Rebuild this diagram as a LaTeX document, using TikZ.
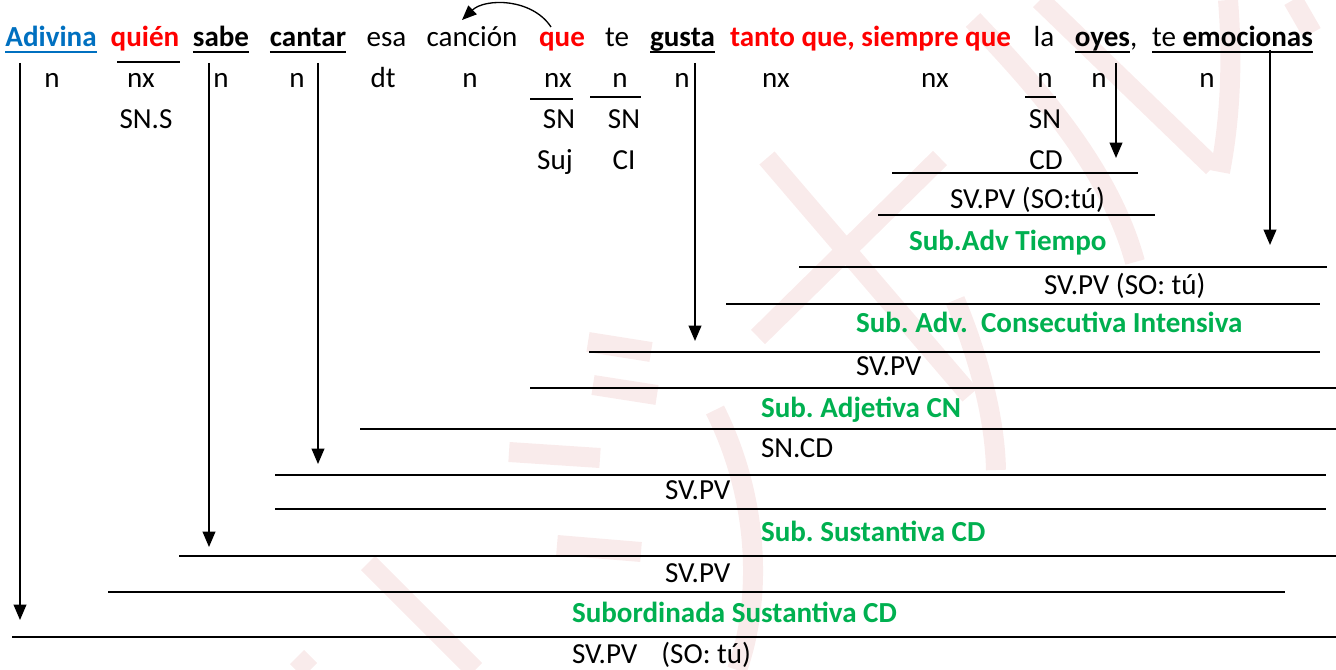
\documentclass[tikz,border=0pt]{standalone}
\usepackage{fontspec}
\setmainfont{Carlito}
\usetikzlibrary{arrows.meta}
\definecolor{wgreen}{RGB}{0,176,80}
\definecolor{wblue}{RGB}{0,112,192}
\definecolor{wred}{RGB}{255,0,0}
\definecolor{wmark}{RGB}{249,235,235}
\frenchspacing
\begin{document}
\begin{tikzpicture}[x=0.75pt,y=-0.75pt,
  every node/.style={inner sep=0pt,outer sep=0pt,font=\fontsize{21.8}{26}\selectfont},
  lbl/.style={anchor=base},
  lblw/.style={anchor=base west},
  grn/.style={text=wgreen,font=\fontsize{21.8}{26}\selectfont\bfseries},
  bld/.style={font=\fontsize{21.8}{26}\selectfont\bfseries},
  rbld/.style={text=wred,font=\fontsize{21.8}{26}\selectfont\bfseries},
  uline/.style={line width=1.4pt},
  hline/.style={line width=1.4pt},
  sline/.style={line width=1.1pt},
  varrow/.style={line width=1.3pt,-{Triangle[width=9.5pt,length=11.5pt]}},
  carrow/.style={line width=1pt,-{Triangle[width=9pt,length=11pt]}},
  wm/.style={wmark,line width=15pt},
]
\useasboundingbox (0,0) rectangle (1336,670);

% watermark
\draw[wm] (767,158) -- (970,395);
\draw[wm] (940,158) -- (758,337);
\draw[wm] (973,20) .. controls (1040,90) and (1110,170) .. (1135,262);
\draw[wm] (1040,0) -- (1213,167);
\draw[wm] (1220,172) .. controls (1232,110) and (1232,50) .. (1228,0);
\draw[wm] (1293,0) -- (1312,33);
\draw[wm] (588,342) -- (651,352);
\draw[wm] (593,385) -- (657,395);
\draw[wm] (509,452) -- (600,458);
\draw[wm] (557,545) -- (641,552);
\draw[wm] (715,410) .. controls (760,500) and (762,600) .. (737,670);
\draw[wm] (955,300) .. controls (980,360) and (995,420) .. (996,470);
\draw[wm] (368,563) -- (475,670);
\draw[wm] (297,657) -- (310,670);

% sentence
\node[lbl,bld,text=wblue] (w1) at (51,47) {Adivina};
\node[lbl,rbld] (w2) at (145,47) {quién};
\node[lbl,bld] (w3) at (221,47) {sabe};
\node[lbl,bld] (w4) at (308,47) {cantar};
\node[lbl] (w5) at (386.5,47) {esa};
\node[lbl] (w6) at (472,47) {canción};
\node[lbl,rbld] (w7) at (562,47) {que};
\node[lbl] (w8) at (617,47) {te};
\node[lbl,bld] (w9) at (682.5,47) {gusta};
\node[lbl,rbld] (w10) at (870.5,47) {tanto que, siempre que};
\node[lbl] (w11) at (1044,47) {la};
\node[lbl,bld] (w12) at (1102.5,47) {oyes};
\node[lblw] (w12c) at (w12.base east) {,};
\node[lbl] (w13) at (1232.5,47) {te \textbf{emocionas}};
\foreach \w in {w3,w4,w9,w12,w13}
  \draw[uline,draw=black] ([yshift=-3.9pt]\w.base west) -- ([yshift=-3.9pt]\w.base east);
\draw[uline,wblue] ([yshift=-3.9pt]w1.base west) -- ([yshift=-3.9pt]w1.base east);

% curved arrow que -> canción
\coordinate (cq) at (551,27);
\coordinate (cc) at (462,20);
\draw[carrow] (cq) .. controls (532,-2) and (485,-2) .. (cc);

% row 2
\node[lbl] (m1) at (52,88) {n};
\node[lbl] (m2) at (141,88) {nx};
\node[lbl] (m3) at (221,88) {n};
\node[lbl] (m4) at (297,88) {n};
\node[lbl] (m5) at (383,88) {dt};
\node[lbl] (m6) at (470,88) {n};
\node[lbl] (m7) at (558,88) {nx};
\node[lbl] (m8) at (620,88) {n};
\node[lbl] (m9) at (682,88) {n};
\node[lbl] (m10) at (776,88) {nx};
\node[lbl] (m11) at (935,88) {nx};
\node[lbl] (m12) at (1045,88) {n};
\node[lbl] (m13) at (1099,88) {n};
\node[lbl] (m14) at (1207,88) {n};

% short bars
\coordinate (b1a) at (117,62); \coordinate (b1b) at (180,62);
\coordinate (b2a) at (530,99); \coordinate (b2b) at (573,99);
\coordinate (b3a) at (590,97); \coordinate (b3b) at (641,97);
\coordinate (b4a) at (1025,97); \coordinate (b4b) at (1056,97);
\draw[sline] (b1a) -- (b1b);
\draw[sline] (b2a) -- (b2b);
\draw[sline] (b3a) -- (b3b);
\draw[sline] (b4a) -- (b4b);

% row 3, 4
\node[lbl] (s1) at (146,129) {SN.S};
\node[lbl] (s2) at (559,129) {SN};
\node[lbl] (s3) at (624,129) {SN};
\node[lbl] (s4) at (1045,129) {SN};
\node[lbl] (f1) at (555,170) {Suj};
\node[lbl] (f2) at (624,170) {CI};
\node[lbl] (f3) at (1046,170) {CD};

% lower labels
\node[lblw] (t5) at (950,209) {SV.PV (SO:tú)};
\node[lblw,grn] (t6) at (909,251) {Sub.Adv Tiempo};
\node[lblw] (t7) at (1044,295) {SV.PV (SO: tú)};
\node[lblw,grn] (t8) at (856,333) {Sub. Adv.\ \ Consecutiva Intensiva};
\node[lblw] (t9) at (856,376) {SV.PV};
\node[lblw,grn] (t10) at (761,417) {Sub. Adjetiva CN};
\node[lblw] (t11) at (761,457) {SN.CD};
\node[lblw] (t12) at (665,499) {SV.PV};
\node[lblw,grn] (t13) at (761,541) {Sub. Sustantiva CD};
\node[lblw] (t14) at (665,582) {SV.PV};
\node[lblw,grn] (t15) at (572,622) {Subordinada Sustantiva CD};
\node[lblw] (t16) at (572,663) {SV.PV\hspace{18pt}(SO: tú)};

% horizontal lines
\foreach \n/\xa/\xb/\y in {1/892/1138/173, 2/878/1155/215, 3/799/1327/267, 4/726/1320/304,
  5/589/1320/352, 6/530/1336/388, 7/360/1336/429, 8/275/1326/475, 9/275/1326/509,
  10/179/1336/556, 11/108/1285/592, 12/12/1336/637}{
  \coordinate (h\n a) at (\xa,\y);
  \coordinate (h\n b) at (\xb,\y);
  \draw[hline] (h\n a) -- (h\n b);
}

% vertical arrows
\foreach \n/\x/\ya/\yb in {1/20/63/620, 2/209/63/547, 3/318/63/464, 4/695/63/341,
  5/1116/63/158, 6/1270/50/245}{
  \coordinate (v\n a) at (\x,\ya);
  \coordinate (v\n b) at (\x,\yb);
  \draw[varrow] (v\n a) -- (v\n b);
}
\end{tikzpicture}
\end{document}
